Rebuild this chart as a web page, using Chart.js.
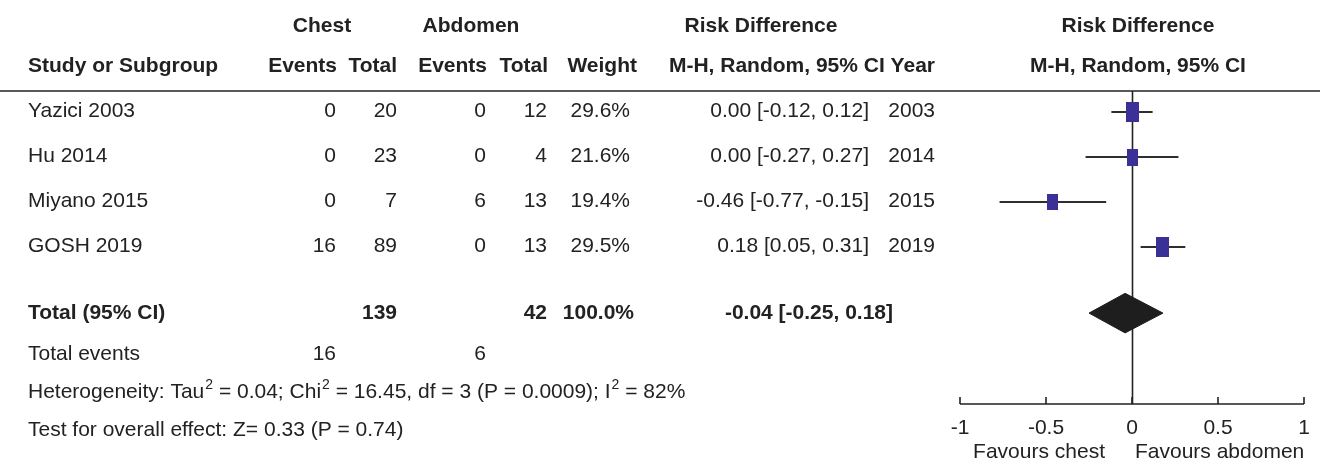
<!DOCTYPE html>
<html>
<head>
<meta charset="utf-8">
<script src="https://cdn.jsdelivr.net/npm/chart.js@4.4.0/dist/chart.umd.min.js"></script>
<style>
  html, body { margin: 0; padding: 0; background: #fff; }
  #wrap { width: 1320px; height: 468px; position: relative; }
</style>
</head>
<body>
<div id="wrap"><canvas id="forestChart"></canvas></div>
<script>
// study rows
const studies = ['Yazici 2003', 'Hu 2014', 'Miyano 2015', 'GOSH 2019'];
const chestEvents = [0, 0, 0, 16];
const chestTotal = [20, 23, 7, 89];
const abdEvents = [0, 0, 6, 0];
const abdTotal = [12, 4, 13, 13];
const weights = [29.6, 21.6, 19.4, 29.5];
const riskDiff = [0.00, 0.00, -0.46, 0.18];
const ciLow = [-0.12, -0.27, -0.77, 0.05];
const ciHigh = [0.12, 0.27, -0.15, 0.31];
const years = [2003, 2014, 2015, 2019];

// pooled result
const pooledEst = -0.04;
const pooledLow = -0.25;
const pooledHigh = 0.18;
const pooledTotals = [139, 42];
const pooledWeight = 100.0;
const totalEvents = [16, 6];

const xTicks = [-1, -0.5, 0, 0.5, 1];
const xTickLabels = ['-1', '-0.5', '0', '0.5', '1'];

// layout rows on the y scale
const studyRows = [1, 2, 3, 4];
const totalRow = 5.47;

const FONT = '"Liberation Sans", Arial, Helvetica, sans-serif';
const FS = 21;
const TXT = '#222';
const BOX_COLOR = '#3a3095';
const DIAMOND_HALF = 0.44; // y units

// box sizes from weights (taller than wide like the original)
function makeBox(w) {
    const c = document.createElement('canvas');
    const s = Math.sqrt(w);
    c.width = Math.round(s * 2.39);
    c.height = Math.round(s * 3.68);
    const g = c.getContext('2d');
    g.fillStyle = BOX_COLOR;
    g.fillRect(0, 0, c.width, c.height);
    return c;
}

const fmt2 = v => v.toFixed(2);
const ciText = (e, l, h) => fmt2(e) + ' [' + fmt2(l) + ', ' + fmt2(h) + ']';

// whisker datasets
const whiskerSets = studies.map((s, i) => ({
    label: s,
    data: [{x: ciLow[i], y: studyRows[i]}, {x: ciHigh[i], y: studyRows[i]}],
    showLine: true,
    borderColor: '#2e2e2e',
    borderWidth: 2,
    pointRadius: 0,
    order: 2
}));

const boxSet = {
    label: 'estimates',
    data: riskDiff.map((v, i) => ({x: v, y: studyRows[i]})),
    pointStyle: weights.map(makeBox),
    pointRadius: 8,
    order: 1
};

const diamondSet = {
    label: 'pooled',
    data: [
        {x: pooledLow, y: totalRow},
        {x: pooledEst, y: totalRow - DIAMOND_HALF},
        {x: pooledHigh, y: totalRow},
        {x: pooledEst, y: totalRow + DIAMOND_HALF},
        {x: pooledLow, y: totalRow}
    ],
    showLine: true,
    fill: 'shape',
    backgroundColor: '#1e1e1e',
    borderColor: '#1e1e1e',
    borderWidth: 1,
    pointRadius: 0,
    tension: 0,
    order: 0
};

function txt(ctx, s, x, y, align, bold) {
    ctx.font = (bold ? 'bold ' : '') + FS + 'px ' + FONT;
    ctx.textAlign = align;
    ctx.fillText(s, x, y);
}

// text with superscript parts: [[str, isSup], ...]
function supText(ctx, parts, x, y) {
    ctx.textAlign = 'left';
    let cx = x;
    parts.forEach(p => {
        if (p[1]) {
            ctx.font = '14px ' + FONT;
            ctx.fillText(p[0], cx + 1, y - 7);
            cx += ctx.measureText(p[0]).width + 1;
        } else {
            ctx.font = FS + 'px ' + FONT;
            ctx.fillText(p[0], cx, y);
            cx += ctx.measureText(p[0]).width;
        }
    });
}

const forestDecor = {
    id: 'forestDecor',
    beforeDatasetsDraw(chart) {
        const ctx = chart.ctx;
        const xs = chart.scales.x;
        const area = chart.chartArea;
        ctx.save();
        // header rule
        ctx.strokeStyle = '#5a5a5a';
        ctx.lineWidth = 2;
        ctx.beginPath();
        ctx.moveTo(0, area.top);
        ctx.lineTo(1320, area.top);
        ctx.stroke();
        // line of no effect
        const zx = Math.round(xs.getPixelForValue(0)) + 0.5;
        ctx.strokeStyle = '#222';
        ctx.lineWidth = 1.6;
        ctx.beginPath();
        ctx.moveTo(zx, area.top);
        ctx.lineTo(zx, area.bottom);
        ctx.stroke();
        // axis
        ctx.beginPath();
        ctx.moveTo(xs.getPixelForValue(xTicks[0]), area.bottom);
        ctx.lineTo(xs.getPixelForValue(xTicks[xTicks.length - 1]), area.bottom);
        xTicks.forEach(t => {
            const px = xs.getPixelForValue(t);
            ctx.moveTo(px, area.bottom);
            ctx.lineTo(px, area.bottom - 7);
        });
        ctx.stroke();
        ctx.restore();
    },
    afterDraw(chart) {
        const ctx = chart.ctx;
        const xs = chart.scales.x;
        const ys = chart.scales.y;
        const area = chart.chartArea;
        ctx.save();
        ctx.fillStyle = TXT;
        ctx.textBaseline = 'middle';

        // headers
        txt(ctx, 'Chest', 322, 26, 'center', true);
        txt(ctx, 'Abdomen', 471, 26, 'center', true);
        txt(ctx, 'Risk Difference', 761, 26, 'center', true);
        txt(ctx, 'Risk Difference', 1138, 26, 'center', true);
        txt(ctx, 'Study or Subgroup', 28, 66, 'left', true);
        txt(ctx, 'Events', 337, 66, 'right', true);
        txt(ctx, 'Total', 397, 66, 'right', true);
        txt(ctx, 'Events', 487, 66, 'right', true);
        txt(ctx, 'Total', 548, 66, 'right', true);
        txt(ctx, 'Weight', 637, 66, 'right', true);
        txt(ctx, 'M-H, Random, 95% CI Year', 935, 66, 'right', true);
        txt(ctx, 'M-H, Random, 95% CI', 1138, 66, 'center', true);

        // study rows
        studies.forEach((s, i) => {
            const y = ys.getPixelForValue(studyRows[i]) - 1;
            txt(ctx, s, 28, y, 'left', false);
            txt(ctx, String(chestEvents[i]), 336, y, 'right', false);
            txt(ctx, String(chestTotal[i]), 397, y, 'right', false);
            txt(ctx, String(abdEvents[i]), 486, y, 'right', false);
            txt(ctx, String(abdTotal[i]), 547, y, 'right', false);
            txt(ctx, weights[i].toFixed(1) + '%', 630, y, 'right', false);
            txt(ctx, ciText(riskDiff[i], ciLow[i], ciHigh[i]), 869, y, 'right', false);
            txt(ctx, String(years[i]), 935, y, 'right', false);
        });

        // total row
        const ty = ys.getPixelForValue(totalRow);
        txt(ctx, 'Total (95% CI)', 28, ty, 'left', true);
        txt(ctx, String(pooledTotals[0]), 397, ty, 'right', true);
        txt(ctx, String(pooledTotals[1]), 547, ty, 'right', true);
        txt(ctx, pooledWeight.toFixed(1) + '%', 634, ty, 'right', true);
        txt(ctx, ciText(pooledEst, pooledLow, pooledHigh), 893, ty, 'right', true);

        // footer
        txt(ctx, 'Total events', 28, 354, 'left', false);
        txt(ctx, String(totalEvents[0]), 336, 354, 'right', false);
        txt(ctx, String(totalEvents[1]), 486, 354, 'right', false);
        supText(ctx, [['Heterogeneity: Tau', false], ['2', true], [' = 0.04; Chi', false], ['2', true],
            [' = 16.45, df = 3 (P = 0.0009); I', false], ['2', true], [' = 82%', false]], 28, 392);
        txt(ctx, 'Test for overall effect: Z= 0.33 (P = 0.74)', 28, 430, 'left', false);

        // axis labels
        xTicks.forEach((t, i) => {
            txt(ctx, xTickLabels[i], xs.getPixelForValue(t), area.bottom + 24, 'center', false);
        });
        const zx = xs.getPixelForValue(0);
        txt(ctx, 'Favours chest', zx - 27, area.bottom + 48, 'right', false);
        txt(ctx, 'Favours abdomen', zx + 3, area.bottom + 48, 'left', false);
        ctx.restore();
    }
};

new Chart(document.getElementById('forestChart').getContext('2d'), {
    type: 'scatter',
    data: { datasets: [...whiskerSets, boxSet, diamondSet] },
    options: {
        responsive: true,
        maintainAspectRatio: false,
        animation: false,
        layout: { padding: { left: 960, right: 16, top: 91, bottom: 64 } },
        plugins: {
            legend: { display: false },
            tooltip: { enabled: false }
        },
        scales: {
            x: { type: 'linear', min: -1, max: 1, display: false },
            y: { type: 'linear', min: 0.533, max: 7.49, reverse: true, display: false }
        }
    },
    plugins: [forestDecor]
});
</script>
</body>
</html>
